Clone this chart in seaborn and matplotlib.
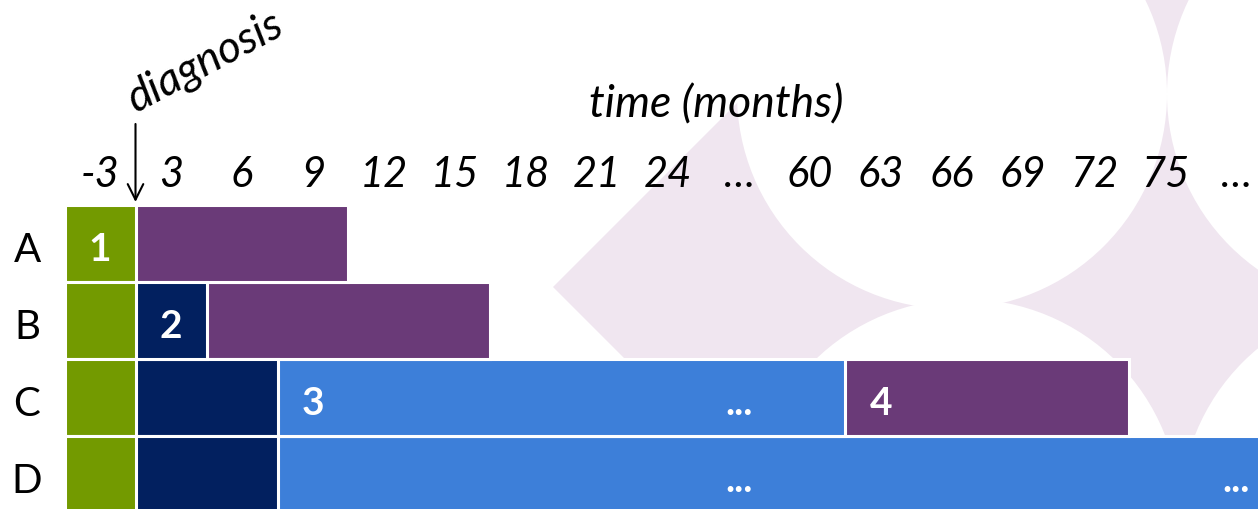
import numpy as np
import pandas as pd
import matplotlib.pyplot as plt
import seaborn as sns
from matplotlib.patches import Polygon, Circle

# Patient timelines, in 3-month slots (slot 0 = the quarter before diagnosis)
rows = ['A', 'B', 'C', 'D']
seg_row = ['A', 'A', 'B', 'B', 'B', 'C', 'C', 'C', 'C', 'D', 'D', 'D']
seg_end = [1, 4, 1, 2, 6, 1, 3, 11, 15, 1, 3, 18]
seg_phase = [1, 4, 1, 2, 4, 1, 2, 3, 4, 1, 2, 3]

tick_labels = ['-3', '3', '6', '9', '12', '15', '18', '21', '24', '…',
               '60', '63', '66', '69', '72', '75', '…']

label_row = ['A', 'B', 'C', 'C', 'C', 'D', 'D']
label_slot = [0, 1, 3, 11, 9, 9, 16]
label_text = ['1', '2', '3', '4', '...', '...', '...']

phase_colors = {1: '#739a00', 2: '#02205f', 3: '#3d7fd9', 4: '#6a3a78'}

sns.set_style('white')
plt.rcParams['font.family'] = ['Lato', 'DejaVu Sans']

fig = plt.figure(figsize=(12.58, 5.10), dpi=100)

# faint decorative background (pixel coordinates)
bg = fig.add_axes([0, 0, 1, 1], zorder=0)
bg.set_xlim(0, 1258)
bg.set_ylim(510, 0)
bg.axis('off')
pink = '#f0e6f0'
bg.add_patch(Polygon([(553, 288), (841, 0), (1258, 0), (1258, 510), (775, 510)],
                     closed=True, facecolor=pink, edgecolor='none'))
for cx, cy in [(952, 95), (965, 515), (1382, 95), (1395, 515)]:
    bg.add_patch(Circle((cx, cy), 215, facecolor='white', edgecolor='none'))

ax = fig.add_axes([0, 0, 1, 1], zorder=1)
ax.patch.set_alpha(0)

segments = pd.DataFrame({'row': seg_row, 'end': seg_end, 'phase': seg_phase})
# longest first so the shorter (earlier) phases sit on top
segments = segments.sort_values('end', ascending=False, kind='stable')
for _, seg in segments.iterrows():
    sns.barplot(x=[seg['end']], y=[seg['row']], order=rows, orient='h',
                color=phase_colors[seg['phase']], saturation=1, width=1,
                edgecolor='white', linewidth=2.2, errorbar=None, ax=ax)

# time axis labels
for i, lab in enumerate(tick_labels):
    ax.text(i + 0.5, -0.747, lab, ha='center', va='baseline',
            fontsize=30, style='italic', color='black')
ax.text(9.18, -1.643, 'time (months)', ha='center', va='baseline',
        fontsize=32, style='italic', color='black')
ax.text(1.99, -2.37, 'diagnosis', ha='center', va='center', rotation=28,
        rotation_mode='anchor', fontsize=32, style='italic', color='black')
ax.annotate('', xy=(1.0, -0.539), xytext=(1.0, -1.552),
            arrowprops=dict(arrowstyle='->', lw=1.5, color='black',
                            mutation_scale=28, shrinkA=0, shrinkB=0))

# row labels
for i, r in enumerate(rows):
    ax.text(-0.528, i + 0.227, r, ha='center', va='baseline',
            fontsize=29, color='black')

# phase numbers / continuation marks inside bars
for r, s, t in zip(label_row, label_slot, label_text):
    ax.text(s + 0.5, rows.index(r) + 0.22, t, ha='center', va='baseline',
            fontsize=28, fontweight='bold', color='white')

ax.set_xlim(-0.9085, 16.81)
ax.set_ylim(3.448, -3.175)
ax.axis('off')

plt.savefig('out.png', dpi=100)
